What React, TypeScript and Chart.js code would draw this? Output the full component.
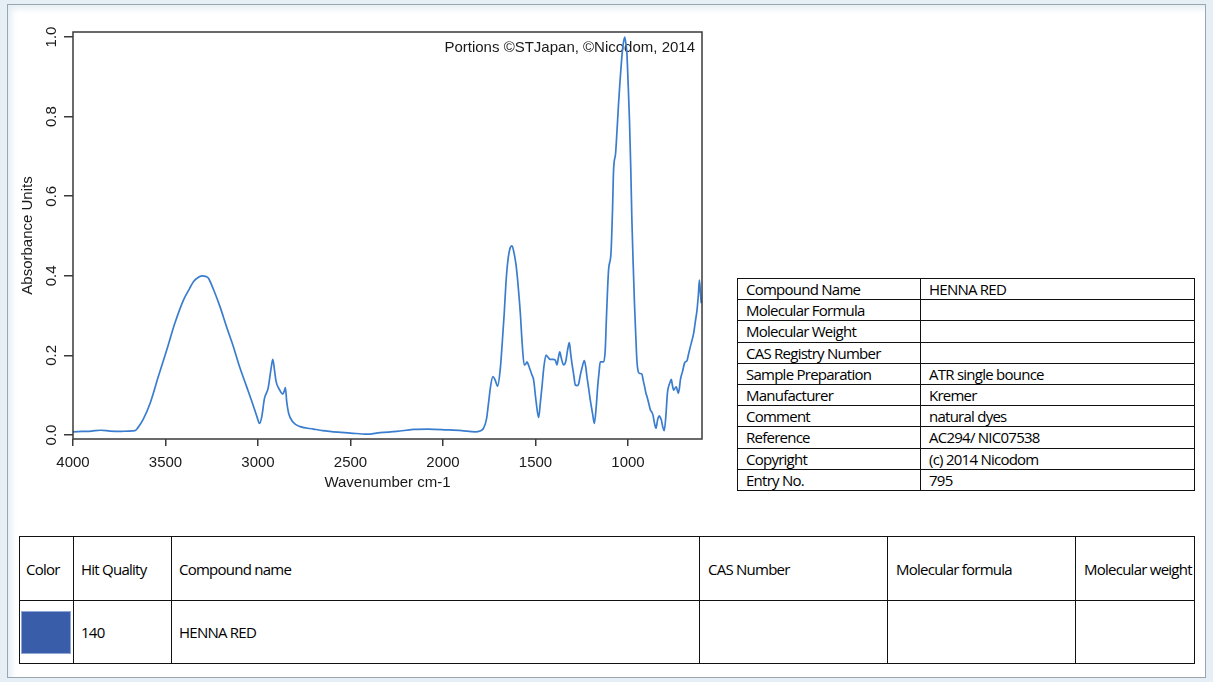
import React, { useEffect, useRef } from 'react';
import { Chart, registerables } from 'chart.js';

Chart.register(...registerables);

// ---- Spectrum data (wavenumber cm-1, absorbance) ----
const WAVENUMBERS = [
  4000, 3950, 3900, 3850, 3800, 3750, 3700, 3665, 3650, 3620, 3583, 3540, 3493, 3450, 3403, 3370, 3349, 3320, 3300, 3280,
  3268, 3240, 3205, 3170, 3133, 3100, 3061, 3030, 3005, 2992, 2980, 2965, 2955, 2945, 2930, 2920, 2910, 2902, 2885, 2866,
  2857, 2852, 2845, 2834, 2810, 2772, 2700, 2650, 2592, 2500, 2412, 2340, 2250, 2160, 2080, 1979, 1900, 1826, 1800, 1781,
  1765, 1754, 1742, 1730, 1718, 1705, 1691, 1680, 1669, 1660, 1651, 1640, 1627, 1615, 1604, 1592, 1582, 1572, 1561, 1553,
  1546, 1538, 1532, 1520, 1510, 1497, 1483, 1474, 1465, 1455, 1443, 1432, 1420, 1405, 1393, 1384, 1376, 1369, 1360, 1348,
  1337, 1326, 1317, 1310, 1303, 1293, 1285, 1275, 1267, 1258, 1249, 1236, 1228, 1222, 1212, 1204, 1192, 1182, 1172, 1164,
  1156, 1150, 1140, 1132, 1123, 1117, 1105, 1092, 1084, 1078, 1067, 1060, 1051, 1043, 1036, 1028, 1018, 1012, 1006, 999,
  992, 985, 979, 972, 965, 958, 952, 945, 938, 925, 918, 910, 903, 897, 888, 879, 872, 865, 857, 849,
  840, 831, 825, 820, 812, 804, 795, 787, 781, 773, 766, 760, 753, 745, 739, 733, 728, 722, 717, 705,
  695, 690, 681, 672, 663, 654, 645, 636, 627, 620, 614, 609, 604,
];
const ABSORBANCE = [
  0.008, 0.009, 0.010, 0.012, 0.010, 0.009, 0.010, 0.011, 0.018, 0.040, 0.080, 0.145, 0.214, 0.280, 0.339, 0.368, 0.385, 0.397, 0.400, 0.398,
  0.394, 0.365, 0.322, 0.272, 0.222, 0.172, 0.121, 0.080, 0.045, 0.029, 0.045, 0.092, 0.105, 0.118, 0.165, 0.190, 0.160, 0.134, 0.115, 0.103,
  0.112, 0.119, 0.085, 0.054, 0.032, 0.021, 0.015, 0.011, 0.008, 0.005, 0.002, 0.006, 0.009, 0.014, 0.015, 0.013, 0.011, 0.008, 0.010, 0.017,
  0.040, 0.080, 0.125, 0.147, 0.138, 0.123, 0.163, 0.230, 0.306, 0.380, 0.431, 0.465, 0.475, 0.455, 0.423, 0.365, 0.306, 0.230, 0.176, 0.178,
  0.184, 0.176, 0.168, 0.152, 0.138, 0.085, 0.044, 0.080, 0.121, 0.170, 0.201, 0.195, 0.190, 0.190, 0.188, 0.176, 0.195, 0.209, 0.192, 0.176,
  0.184, 0.215, 0.232, 0.205, 0.180, 0.150, 0.126, 0.124, 0.128, 0.150, 0.168, 0.187, 0.170, 0.147, 0.115, 0.088, 0.055, 0.029, 0.070, 0.121,
  0.160, 0.184, 0.184, 0.184, 0.214, 0.289, 0.415, 0.457, 0.560, 0.666, 0.708, 0.760, 0.833, 0.890, 0.934, 0.975, 1.000, 0.985, 0.959, 0.880,
  0.791, 0.670, 0.540, 0.430, 0.331, 0.250, 0.188, 0.160, 0.155, 0.153, 0.138, 0.121, 0.105, 0.096, 0.080, 0.063, 0.058, 0.050, 0.030, 0.017,
  0.038, 0.048, 0.044, 0.038, 0.020, 0.011, 0.050, 0.105, 0.121, 0.132, 0.140, 0.125, 0.113, 0.118, 0.121, 0.112, 0.105, 0.118, 0.138, 0.160,
  0.180, 0.184, 0.187, 0.205, 0.222, 0.238, 0.256, 0.285, 0.314, 0.350, 0.389, 0.360, 0.331,
];

const X_TICKS = [4000, 3500, 3000, 2500, 2000, 1500, 1000];
const Y_TICKS = [0, 0.2, 0.4, 0.6, 0.8, 1.0];

const INFO_LABELS = [
  'Compound Name', 'Molecular Formula', 'Molecular Weight', 'CAS Registry Number', 'Sample Preparation',
  'Manufacturer', 'Comment', 'Reference', 'Copyright', 'Entry No.',
];
const INFO_VALUES = ['HENNA RED', '', '', '', 'ATR single bounce', 'Kremer', 'natural dyes', 'AC294/ NIC07538', '(c) 2014 Nicodom', '795'];

const HIT_HEADERS = ['Color', 'Hit Quality', 'Compound name', 'CAS Number', 'Molecular formula', 'Molecular weight'];
const HIT_ROW = ['', '140', 'HENNA RED', '', '', ''];
const HIT_COL_WIDTHS = [54, 98, 528, 188, 188, 119];

const LINE_COLOR = '#3a7dcf';
const SWATCH_COLOR = '#3a5da9';
const COPYRIGHT = 'Portions \u00A9STJapan, \u00A9Nicodom, 2014';

const CANVAS_W = 720;
const CANVAS_H = 520;

const AXIS_FONT = { family: '"Liberation Sans", Arial, sans-serif', size: 15 };
const TABLE_FONT = '"Open Sans", "Noto Sans", sans-serif';

const boxPlugin = {
  id: 'plotBox',
  beforeDatasetsDraw(chart: any) {
    const { ctx, chartArea: a } = chart;
    ctx.save();
    ctx.font = '15px "Liberation Sans", Arial, sans-serif';
    ctx.fillStyle = '#1a1a1a';
    ctx.textAlign = 'right';
    ctx.textBaseline = 'middle';
    ctx.fillText(COPYRIGHT, a.right - 7, a.top + 16);
    ctx.restore();
  },
  afterDraw(chart: any) {
    const { ctx, chartArea: a } = chart;
    ctx.save();
    ctx.strokeStyle = '#3a3a3a';
    ctx.lineWidth = 1.5;
    ctx.strokeRect(a.left, a.top, a.right - a.left, a.bottom - a.top);
    ctx.restore();
  },
};

function SpectrumChart() {
  const ref = useRef<HTMLCanvasElement | null>(null);
  useEffect(() => {
    if (!ref.current) return;
    const chart = new Chart(ref.current, {
      type: 'line',
      data: {
        datasets: [
          {
            data: WAVENUMBERS.map((w, i) => ({ x: w, y: ABSORBANCE[i] })),
            borderColor: LINE_COLOR,
            borderWidth: 1.7,
            pointRadius: 0,
            fill: false,
            cubicInterpolationMode: 'monotone',
          },
        ],
      },
      options: {
        animation: false,
        responsive: false,
        maintainAspectRatio: false,
        devicePixelRatio: 1,
        layout: { padding: { top: 32, right: CANVAS_W - 702, left: 0, bottom: 0 } },
        plugins: { legend: { display: false }, tooltip: { enabled: false } },
        scales: {
          x: {
            type: 'linear',
            reverse: true,
            min: 600,
            max: 4000,
            afterBuildTicks: (s: any) => {
              s.ticks = X_TICKS.map((v) => ({ value: v }));
            },
            afterFit: (s: any) => {
              s.height = CANVAS_H - 439;
            },
            border: { display: false },
            grid: { drawOnChartArea: false, drawTicks: true, tickLength: 7, color: '#3a3a3a', lineWidth: 1.5 },
            ticks: {
              color: '#1a1a1a',
              font: AXIS_FONT,
              padding: 8,
              maxRotation: 0,
              minRotation: 0,
              autoSkip: false,
              callback: (v: any) => String(v),
            },
            title: {
              display: true,
              text: 'Wavenumber cm-1',
              color: '#1a1a1a',
              font: AXIS_FONT,
              padding: { top: 0, bottom: 28 },
            },
          },
          y: {
            type: 'linear',
            min: -0.01,
            max: 1.0126,
            afterBuildTicks: (s: any) => {
              s.ticks = Y_TICKS.map((v) => ({ value: v }));
            },
            afterFit: (s: any) => {
              s.width = 73;
            },
            border: { display: false },
            grid: { drawOnChartArea: false, drawTicks: true, tickLength: 9, color: '#3a3a3a', lineWidth: 1.5 },
            ticks: {
              color: '#1a1a1a',
              font: AXIS_FONT,
              padding: 2,
              minRotation: 90,
              maxRotation: 90,
              crossAlign: 'center',
              autoSkip: false,
              callback: (v: any) => Number(v).toFixed(1),
            },
            title: {
              display: true,
              text: 'Absorbance Units',
              color: '#1a1a1a',
              font: AXIS_FONT,
              padding: { top: 18.5, bottom: 0 },
            },
          },
        },
      },
      plugins: [boxPlugin],
    } as any);
    return () => chart.destroy();
  }, []);
  return (
    <canvas
      ref={ref}
      width={CANVAS_W}
      height={CANVAS_H}
      style={{ position: 'absolute', left: 0, top: 0, width: CANVAS_W, height: CANVAS_H }}
    />
  );
}

const cellText: React.CSSProperties = {
  fontFamily: TABLE_FONT,
  fontSize: 15,
  letterSpacing: '-0.75px',
  color: '#000',
  whiteSpace: 'nowrap',
  overflow: 'visible',
};

function InfoTable() {
  const rowH = 21.2;
  const td = (w: number, pad: number): React.CSSProperties => ({
    ...cellText,
    width: w,
    height: rowH,
    padding: `0 0 0 ${pad}px`,
    border: '1px solid #111',
    boxSizing: 'border-box',
    verticalAlign: 'middle',
    lineHeight: '18px',
  });
  return (
    <table
      style={{
        position: 'absolute',
        left: 737,
        top: 278,
        width: 457,
        height: 212,
        borderCollapse: 'collapse',
        tableLayout: 'fixed',
        background: '#fff',
      }}
    >
      <colgroup>
        <col style={{ width: 183 }} />
        <col style={{ width: 274 }} />
      </colgroup>
      <tbody>
        {INFO_LABELS.map((label, i) => (
          <tr key={label} style={{ height: rowH }}>
            <td style={td(183, 8)}>{label}</td>
            <td style={td(274, 8)}>{INFO_VALUES[i]}</td>
          </tr>
        ))}
      </tbody>
    </table>
  );
}

function HitTable() {
  const cellStyle = (w: number, h: number): React.CSSProperties => ({
    width: w,
    height: h,
    border: '1px solid #111',
    padding: '0 0 0 7px',
    boxSizing: 'border-box',
    textAlign: 'left',
    verticalAlign: 'middle',
    fontWeight: 'normal',
    ...cellText,
  });
  return (
    <table
      style={{
        position: 'absolute',
        left: 19,
        top: 536,
        width: 1175,
        borderCollapse: 'collapse',
        tableLayout: 'fixed',
        background: '#fff',
      }}
    >
      <colgroup>
        {HIT_COL_WIDTHS.map((w, i) => (
          <col key={i} style={{ width: w }} />
        ))}
      </colgroup>
      <thead>
        <tr style={{ height: 64 }}>
          {HIT_HEADERS.map((h, i) => (
            <th key={h} style={{ ...cellStyle(HIT_COL_WIDTHS[i], 64), paddingLeft: i === 0 ? 6 : i >= 3 ? 8 : 7 }}>
              {h}
            </th>
          ))}
        </tr>
      </thead>
      <tbody>
        <tr style={{ height: 63 }}>
          {HIT_ROW.map((v, i) => (
            <td key={i} style={{ ...cellStyle(HIT_COL_WIDTHS[i], 63), paddingLeft: i === 0 ? 1 : 7 }}>
              {i === 0 ? (
                <div style={{ width: 50, height: 43, background: SWATCH_COLOR, border: '1px solid #8fa8d8', boxSizing: 'border-box' }} />
              ) : (
                v
              )}
            </td>
          ))}
        </tr>
      </tbody>
    </table>
  );
}

export default function App() {
  return (
    <div
      style={{
        position: 'absolute',
        left: 0,
        top: 0,
        width: 1213,
        height: 682,
        background: '#e6eff5',
        overflow: 'hidden',
      }}
    >
      <div
        style={{
          position: 'absolute',
          left: 7,
          top: 4,
          width: 1199,
          height: 674,
          border: '1px solid #9aa6ae',
          boxSizing: 'border-box',
          background: '#fff',
          boxShadow: 'inset 8px 8px 6px -4px #e6eff5',
        }}
      />
      <SpectrumChart />
      <InfoTable />
      <HitTable />
    </div>
  );
}
